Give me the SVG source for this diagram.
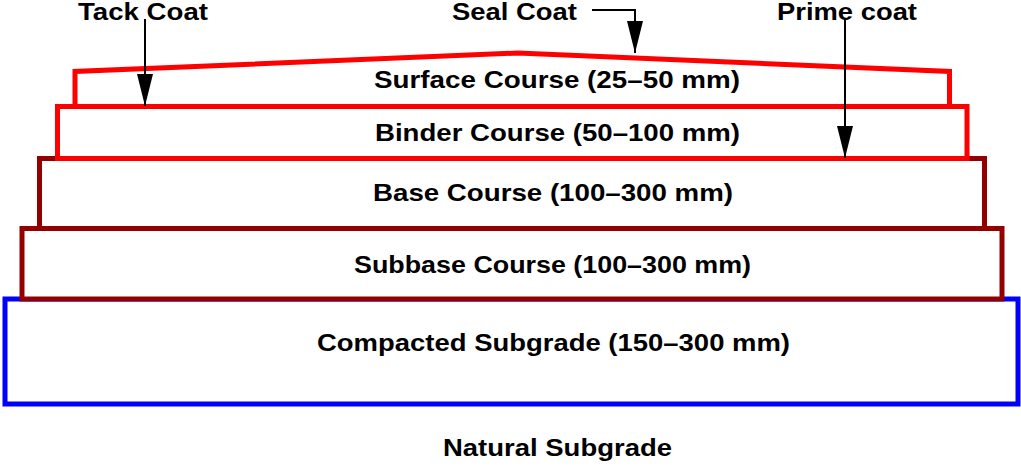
<svg xmlns="http://www.w3.org/2000/svg" width="1021" height="466" viewBox="0 0 1021 466">
<defs>
<style>
.lay{fill:#ffffff;stroke-width:5;stroke-linejoin:miter}
.red{stroke:#ff0000}
.dred{stroke:#920000}
.blue{stroke:#0000ff}
.t{font-family:"Liberation Sans",Arial,Helvetica,sans-serif;font-weight:bold;font-size:24.5px;fill:#000000}
.top{font-size:23.5px}
.c{fill:none;stroke:#000000;stroke-width:2}
</style>
<marker id="ah" viewBox="0 0 32 16" refX="32" refY="8" markerWidth="32" markerHeight="16" markerUnits="userSpaceOnUse" orient="auto">
<path d="M0,0 L32,8 L0,16 z" fill="#000000"/>
</marker>
</defs>
<rect width="1021" height="466" fill="#ffffff"/>
<g id="compacted-subgrade">
<rect class="lay blue" x="5" y="299" width="1013" height="105"/>
<text class="t" x="317" y="351" textLength="473" lengthAdjust="spacingAndGlyphs">Compacted Subgrade (150–300 mm)</text>
</g>
<g id="subbase-course">
<rect class="lay dred" x="22" y="228.5" width="980" height="70.5"/>
<text class="t" x="354" y="273" textLength="397" lengthAdjust="spacingAndGlyphs">Subbase Course (100–300 mm)</text>
</g>
<g id="base-course">
<rect class="lay dred" x="39.5" y="158.5" width="945" height="70"/>
<text class="t" x="373" y="201" textLength="360" lengthAdjust="spacingAndGlyphs">Base Course (100–300 mm)</text>
</g>
<g id="binder-course">
<rect class="lay red" x="57.5" y="106.5" width="909.5" height="52"/>
<text class="t" x="375" y="141" textLength="365" lengthAdjust="spacingAndGlyphs">Binder Course (50–100 mm)</text>
</g>
<g id="surface-course">
<polygon class="lay red" points="75,106.5 75,71.5 518,53 949.5,71.5 949.5,106.5"/>
<text class="t" x="374" y="88" textLength="366" lengthAdjust="spacingAndGlyphs">Surface Course (25–50 mm)</text>
</g>
<g id="natural-subgrade">
<text class="t" x="443" y="456" textLength="229" lengthAdjust="spacingAndGlyphs">Natural Subgrade</text>
</g>
<g id="tack-coat">
<text class="t top" x="78" y="20" textLength="130" lengthAdjust="spacingAndGlyphs">Tack Coat</text>
</g>
<g id="seal-coat">
<text class="t top" x="452" y="20" textLength="125" lengthAdjust="spacingAndGlyphs">Seal Coat</text>
</g>
<g id="prime-coat">
<text class="t top" x="777" y="20" textLength="140" lengthAdjust="spacingAndGlyphs">Prime coat</text>
</g>
<g id="connectors">
<path class="c" d="M145,19 L145,106" marker-end="url(#ah)"/>
<path class="c" d="M592,10 L635,10 L635,53" marker-end="url(#ah)"/>
<path class="c" d="M845,19 L845,158" marker-end="url(#ah)"/>
</g>
</svg>
